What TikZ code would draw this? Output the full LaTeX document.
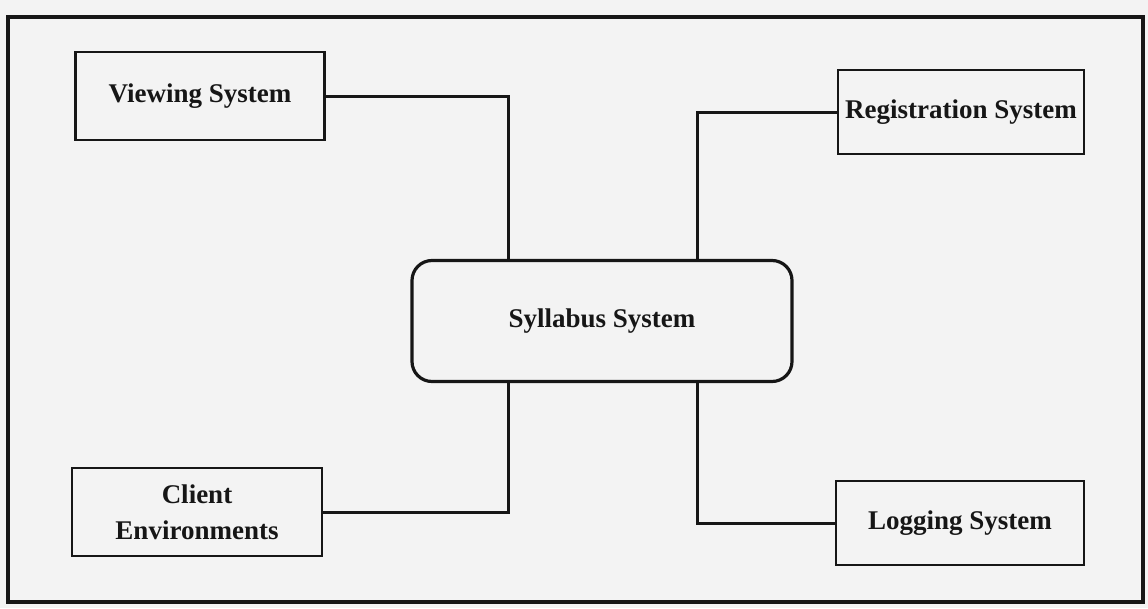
\documentclass[tikz,border=0pt]{standalone}
\usepackage{fontspec}
\setmainfont{Liberation Serif}
\usepackage{tikz}
\usetikzlibrary{arrows}

\definecolor{paper}{RGB}{243,243,243}
\definecolor{ink}{RGB}{22,22,22}

\begin{document}
\begin{tikzpicture}[x=1pt,y=-1pt]

\tikzset{sysbox/.style = {shape=rectangle,draw=ink,line width=2.6pt,inner sep=0pt,
  font=\fontsize{27}{36}\selectfont\bfseries,text=ink,align=center}}
\tikzset{core/.style = {sysbox,line width=3.2pt,rounded corners=20pt}}
\tikzset{edge/.style = {draw=ink,line width=3pt}}
\tikzset{frame/.style = {draw=ink,line width=3.4pt}}

\useasboundingbox[fill=paper] (0,0) rectangle (1148,608);
\draw[frame] (8,17) rectangle (1143,602);
% systems
\node[sysbox,minimum width=249pt,minimum height=88pt] (view) at (200,96) {Viewing System};
\node[sysbox,minimum width=246pt,minimum height=84pt] (reg) at (961,112) {Registration System};
\node[core,minimum width=380pt,minimum height=121pt] (syl) at (602,321) {Syllabus System};
\node[sysbox,minimum width=250pt,minimum height=88pt] (client) at (197,512) {Client\\Environments};
\node[sysbox,minimum width=248pt,minimum height=84pt] (log) at (960,523) {Logging System};
% links
\draw[edge] (view) -| ([xshift=-94pt]syl.north);
\draw[edge] (reg) -| ([xshift=95pt]syl.north);
\draw[edge] (client) -| ([xshift=-94pt]syl.south);
\draw[edge] (log) -| ([xshift=95pt]syl.south);
\end{tikzpicture}
\end{document}
